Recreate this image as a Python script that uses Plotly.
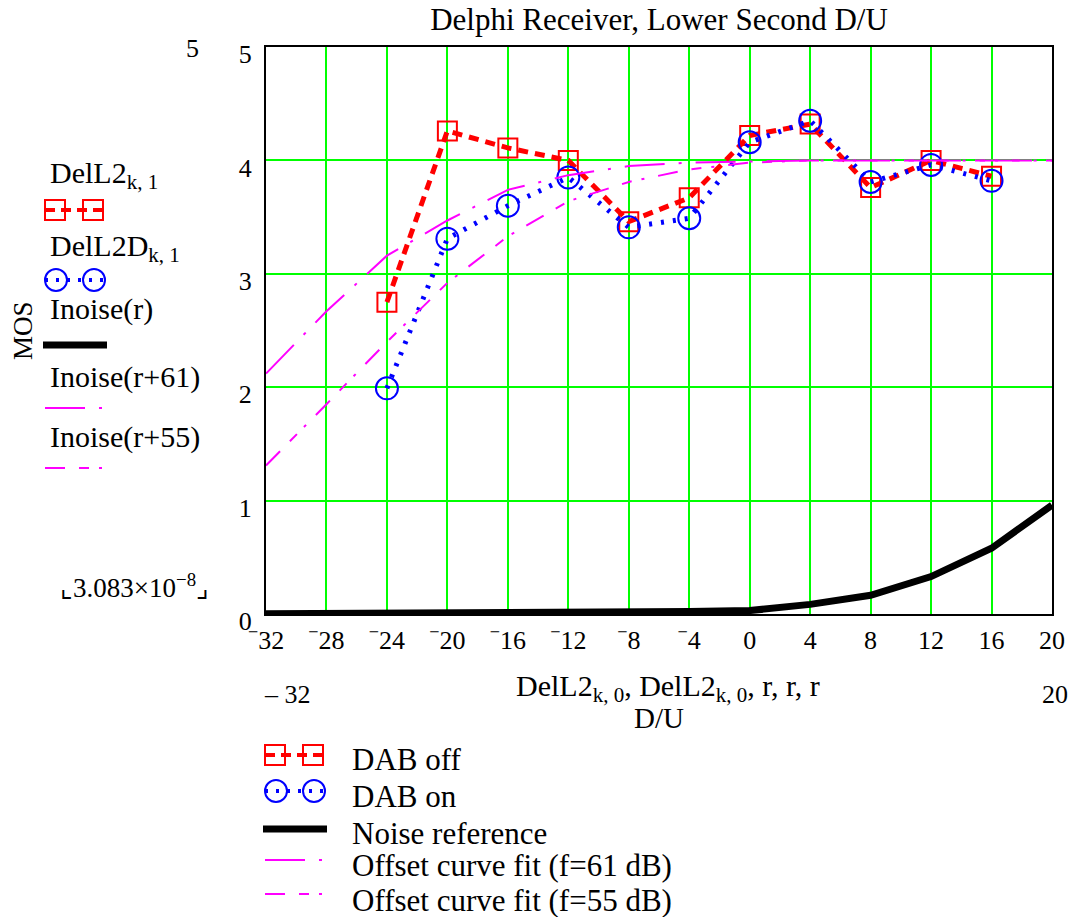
import plotly.graph_objects as go

# Measured MOS scores versus D/U (dB)
du = [-24, -20, -16, -12, -8, -4, 0, 4, 8, 12, 16]
dab_off = [2.75, 4.26, 4.11, 4.00, 3.46, 3.67, 4.22, 4.32, 3.76, 4.00, 3.86]
dab_on = [1.99, 3.31, 3.60, 3.85, 3.41, 3.49, 4.16, 4.35, 3.81, 3.96, 3.82]

# Noise reference curve and offset curve fits, sampled every 4 dB
r = [-32, -28, -24, -20, -16, -12, -8, -4, 0, 4, 8, 12, 16, 20]
inoise = [0.002, 0.003, 0.004, 0.006, 0.008, 0.011, 0.015, 0.022, 0.03, 0.085, 0.165, 0.33, 0.58, 0.96]
inoise_61 = [2.12, 2.67, 3.16, 3.47, 3.74, 3.87, 3.95, 3.98, 3.99, 4.0, 4.0, 4.0, 4.0, 4.0]
inoise_55 = [1.31, 1.85, 2.40, 2.92, 3.33, 3.64, 3.81, 3.92, 3.98, 4.0, 4.0, 4.0, 4.0, 4.0]

x_ticks = list(range(-32, 21, 4))
x_tick_text = [("<sup>\u2212</sup>" + str(-v)) if v < 0 else str(v) for v in x_ticks]
y_ticks = [0, 1, 2, 3, 4, 5]
y_tick_text = [str(v) for v in y_ticks]

FONT = "Liberation Serif, Times New Roman, serif"
RED, BLUE, MAG = "#ff0000", "#0000ff", "#ff00ff"
GRID = "#00ff00"
DASH61 = "40px,14px,3px,14px"
DASH55 = "20px,14px,10px,10px,3px,14px"

W, H = 1080, 917
L, R, T, B = 266, 1052, 47, 614


def fx(p):
    return (p - L) / (R - L)


def fy(p):
    return (B - p) / (B - T)


fig = go.Figure()
fig.add_trace(go.Scatter(x=du, y=dab_off, mode="lines+markers", name="DAB off",
                         line=dict(color=RED, width=5, dash="10px,7px"),
                         marker=dict(symbol="square-open", size=19, color=RED, line=dict(width=2, color=RED))))
fig.add_trace(go.Scatter(x=du, y=dab_on, mode="lines+markers", name="DAB on",
                         line=dict(color=BLUE, width=5, dash="3px,9px"),
                         marker=dict(symbol="circle-open", size=22, color=BLUE, line=dict(width=2, color=BLUE))))
fig.add_trace(go.Scatter(x=r, y=inoise, mode="lines", name="Noise reference",
                         line=dict(color="black", width=7)))
fig.add_trace(go.Scatter(x=r, y=inoise_61, mode="lines", name="Offset curve fit (f=61 dB)",
                         line=dict(color=MAG, width=2, dash=DASH61)))
fig.add_trace(go.Scatter(x=r, y=inoise_55, mode="lines", name="Offset curve fit (f=55 dB)",
                         line=dict(color=MAG, width=2, dash=DASH55)))

shapes = []
annotations = []


def hline(x0, x1, y, color, width, dash="solid"):
    shapes.append(dict(type="line", xref="paper", yref="paper", x0=fx(x0), x1=fx(x1), y0=fy(y), y1=fy(y),
                       line=dict(color=color, width=width, dash=dash)))


def square(cx, cy, s, color):
    shapes.append(dict(type="rect", xref="paper", yref="paper", x0=fx(cx - s / 2), x1=fx(cx + s / 2),
                       y0=fy(cy + s / 2), y1=fy(cy - s / 2), line=dict(color=color, width=2)))


def circle(cx, cy, d, color):
    shapes.append(dict(type="circle", xref="paper", yref="paper", x0=fx(cx - d / 2), x1=fx(cx + d / 2),
                       y0=fy(cy + d / 2), y1=fy(cy - d / 2), line=dict(color=color, width=2)))


def text(s, x, y, size, xanchor="left", yanchor="middle", angle=0):
    annotations.append(dict(text=s, xref="paper", yref="paper", x=fx(x), y=fy(y), xanchor=xanchor,
                            yanchor=yanchor, showarrow=False, textangle=angle,
                            font=dict(family=FONT, size=size, color="black")))


def key_set(x0, ys):
    # red squares with dashed line
    hline(x0, x0 + 58, ys[0], RED, 4, "10px,6px")
    square(x0 + 10, ys[0], 20, RED)
    square(x0 + 48, ys[0], 20, RED)
    # blue circles with dotted line
    hline(x0, x0 + 60, ys[1], BLUE, 4, "3px,8px")
    circle(x0 + 11, ys[1], 22, BLUE)
    circle(x0 + 49, ys[1], 22, BLUE)
    # noise reference
    hline(x0 - 2, x0 + 62, ys[2], "black", 7)
    # offset fits
    hline(x0, x0 + 60, ys[3], MAG, 2, DASH61)
    hline(x0, x0 + 60, ys[4], MAG, 2, DASH55)


# trace key on the left
key_set(45, [210, 280, 345, 408, 468])
text("DelL2<sub>k, 1</sub>", 48, 175, 30)
text("DelL2D<sub>k, 1</sub>", 48, 248, 30)
text("Inoise(r)", 48, 309, 30)
text("Inoise(r+61)", 48, 377, 30)
text("Inoise(r+55)", 48, 437, 30)

# descriptive key below the axes
key_set(265, [755, 791, 829, 860, 894])
text("DAB off", 350, 759, 31)
text("DAB on", 350, 796, 31)
text("Noise reference", 350, 833, 31)
text("Offset curve fit (f=61 dB)", 350, 865, 31)
text("Offset curve fit (f=55 dB)", 350, 900, 31)

# axis annotations
text("MOS", 23, 331, 27, xanchor="center", angle=-90)
text("5", 192, 48, 26, xanchor="center")
text("\u231e3.083\u00d710<sup>\u22128</sup>\u231f", 58, 586, 27)
text("\u2013 32", 287, 694, 26, xanchor="center")
text("20", 1055, 694, 26, xanchor="center")
text("DelL2<sub>k, 0</sub>, DelL2<sub>k, 0</sub>, r, r, r", 514, 688, 30)
text("D/U", 659, 718, 29, xanchor="center")

fig.update_layout(
    width=W, height=H,
    margin=dict(l=L, r=W - R, t=T, b=H - B),
    plot_bgcolor="white", paper_bgcolor="white",
    showlegend=False,
    font=dict(family=FONT, color="black"),
    title=dict(text="Delphi Receiver, Lower Second D/U", x=(L + R) / 2 / W, xanchor="center",
               y=1 - 19 / H, yanchor="middle", yref="container",
               font=dict(family=FONT, size=31, color="black")),
    shapes=shapes,
    annotations=annotations,
)
fig.update_xaxes(range=[-32, 20], tickvals=x_ticks, ticktext=x_tick_text, showgrid=True,
                 gridcolor=GRID, gridwidth=1.5, showline=True, linecolor="black", linewidth=2,
                 mirror=True, ticks="", zeroline=False, tickfont=dict(family=FONT, size=26),
                 ticklabelstandoff=2)
fig.update_yaxes(range=[0, 5], tickvals=y_ticks, ticktext=y_tick_text, showgrid=True,
                 gridcolor=GRID, gridwidth=1.5, showline=True, linecolor="black", linewidth=2,
                 mirror=True, ticks="", zeroline=False, tickfont=dict(family=FONT, size=26),
                 ticklabelstandoff=7, ticklabelshift=7)

fig.write_html("out.html")
